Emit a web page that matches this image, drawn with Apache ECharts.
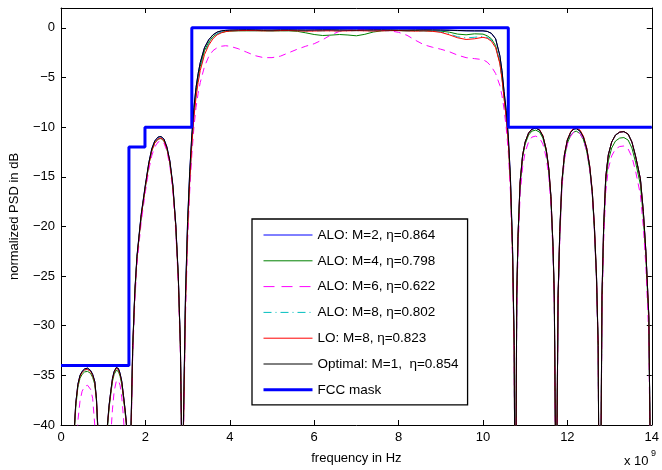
<!DOCTYPE html>
<html><head><meta charset="utf-8">
<script src="https://cdn.jsdelivr.net/npm/echarts@6/dist/echarts.min.js"></script>
<style>html,body{margin:0;padding:0;background:#fff}#c{width:662px;height:470px}</style>
</head><body><div id="c"></div>
<script>
// frequency grid (x 10^9 Hz)
const freq = [
 0.29,0.32,0.35,0.40,0.45,0.50,0.56,0.63,0.70,0.75,0.80,0.84,0.87,0.90,
 0.98,1.06,
 1.10,1.14,1.18,1.22,1.26,1.31,1.36,1.40,1.44,1.48,1.52,1.55,1.57,1.60,
 1.63,1.66,1.70,1.75,1.80,1.90,2.00,2.08,2.15,2.22,2.30,2.37,2.44,2.51,2.58,2.65,2.72,2.78,2.83,2.86,2.875,
 2.90,2.95,3.00,3.05,3.10,3.15,3.20,3.25,3.30,3.40,3.50,3.60,3.70,3.80,3.90,4.00,
 4.2,4.4,4.6,4.8,5.0,5.2,5.4,5.6,5.8,6.0,6.2,6.4,6.6,6.8,7.0,7.2,7.4,7.6,7.8,8.0,8.2,8.4,8.6,8.8,9.0,9.2,9.4,9.6,9.8,10.0,
 10.1,10.2,10.3,10.4,10.45,10.5,10.55,10.6,10.65,10.70,10.74,10.77,
 10.78,10.80,10.83,10.88,10.94,11.00,11.08,11.16,11.25,11.34,11.42,11.50,11.56,11.61,11.66,11.69,11.715,11.73,
 11.755,11.78,11.82,11.87,11.93,12.00,12.08,12.15,12.21,12.30,12.38,12.46,12.53,12.59,12.64,12.69,12.73,12.765,
 12.79,12.80,12.82,12.86,12.91,12.97,13.05,13.14,13.24,13.34,13.44,13.53,13.62,13.73,13.80,13.86,13.93,13.97,14.00
];

const aloM2 = [
 -50,-40,-37.8,-35.9,-35.0,-34.6,-34.35,-34.28,-34.5,-34.9,-35.6,-37.3,-40,-50,
 -47,-50,
 -40,-38.0,-36.6,-35.3,-34.6,-34.25,-34.3,-34.8,-35.6,-37.0,-38.5,-39.8,-41.5,-60,
 -60,-40,-32,-26.5,-23,-18.8,-15.8,-13.6,-12.2,-11.4,-11.0,-10.95,-11.2,-12.0,-13.4,-15.8,-19.8,-25,-32,-42,-60,
 -40,-27,-19.5,-14.5,-10.8,-8.0,-6.0,-4.6,-3.5,-2.0,-1.2,-0.72,-0.44,-0.32,-0.26,-0.23,
 -0.22,-0.21,-0.22,-0.23,-0.23,-0.22,-0.21,-0.22,-0.23,-0.22,-0.21,-0.21,-0.22,-0.23,-0.23,-0.22,-0.21,-0.21,-0.22,-0.23,-0.23,-0.22,-0.21,-0.22,-0.23,-0.25,-0.28,-0.3,-0.31,-0.31,
 -0.36,-0.56,-1.1,-2.8,-4.3,-6.4,-8.3,-10.9,-15,-22,-32,-60,
 -45,-27,-21,-15.5,-12.8,-11.5,-10.6,-10.2,-10.1,-10.3,-10.9,-12.3,-14.2,-17,-22,-27,-40,-60,
 -40,-27,-20.5,-15.5,-12.8,-11.3,-10.5,-10.2,-10.15,-10.4,-11.0,-12.2,-14.0,-16.5,-20,-25,-32,-60,
 -60,-40,-27,-20,-15,-12.8,-11.5,-10.8,-10.5,-10.45,-10.7,-11.5,-13.0,-15.2,-18.5,-22.5,-29,-45,-60
];

const aloM4 = [
 -50,-40.5,-38.2,-36.2,-35.3,-34.9,-34.65,-34.6,-34.8,-35.2,-35.9,-37.6,-40.5,-50,
 -47,-50,
 -40.3,-38.3,-36.9,-35.6,-34.9,-34.5,-34.6,-35.1,-35.9,-37.3,-38.8,-40.1,-42,-60,
 -60,-40.5,-32.3,-26.8,-23.2,-19.0,-16.0,-13.8,-12.4,-11.6,-11.2,-11.15,-11.4,-12.2,-13.6,-16.0,-20.0,-25.2,-32.3,-42,-60,
 -40.5,-27.5,-20,-15,-11.3,-8.5,-6.5,-5.0,-3.9,-2.3,-1.45,-0.9,-0.6,-0.45,-0.38,-0.33,
 -0.3,-0.3,-0.29,-0.3,-0.31,-0.3,-0.3,-0.35,-0.5,-0.67,-0.77,-0.73,-0.67,-0.72,-0.8,-0.65,-0.42,-0.3,-0.25,-0.28,-0.3,-0.28,-0.3,-0.32,-0.33,-0.43,-0.63,-0.7,-0.6,-0.63,
 -0.8,-1.1,-1.8,-3.5,-5.0,-7.0,-9.0,-11.5,-15.5,-22.5,-32.5,-60,
 -45,-27.3,-21.3,-15.8,-13.0,-11.7,-10.8,-10.4,-10.3,-10.5,-11.1,-12.5,-14.4,-17.2,-22.3,-27.3,-40.3,-60,
 -40.3,-27.3,-20.8,-15.8,-13.1,-11.6,-10.8,-10.5,-10.4,-10.65,-11.25,-12.45,-14.25,-16.75,-20.3,-25.3,-32.3,-60,
 -60,-40.5,-27.6,-20.6,-15.6,-13.4,-12.1,-11.4,-11.1,-11.05,-11.3,-12.1,-13.6,-15.8,-19.1,-23.1,-29.6,-45,-60
];

const aloM6 = [
 -60,-50,-44,-39.6,-37.6,-36.6,-36.1,-36.0,-36.4,-37.3,-40.0,-45,-50,-60,
 -55,-60,
 -48,-44,-41,-38.4,-36.6,-35.6,-35.5,-36.0,-37.2,-39.2,-42,-45,-50,-60,
 -60,-41.5,-33,-27.5,-23.8,-19.6,-16.5,-14.3,-12.9,-12.0,-11.5,-11.4,-11.6,-12.4,-13.9,-16.4,-20.5,-25.8,-33,-43,-60,
 -42,-29,-21.5,-16.5,-12.8,-10.0,-8.0,-6.6,-5.5,-3.9,-2.9,-2.3,-2.0,-1.85,-1.8,-1.85,
 -2.1,-2.45,-2.8,-3.0,-3.0,-2.85,-2.5,-2.15,-1.85,-1.6,-1.2,-0.7,-0.35,-0.25,-0.2,-0.2,-0.22,-0.25,-0.3,-0.45,-0.75,-1.25,-1.7,-1.95,-2.15,-2.4,-2.75,-3.0,-3.1,-3.2,
 -3.45,-3.9,-4.6,-5.8,-6.8,-8.2,-10,-12.5,-16.5,-23.5,-33.5,-60,
 -50,-29,-22.5,-16.8,-14.0,-12.5,-11.5,-11.0,-10.9,-11.1,-11.7,-13.1,-15.0,-17.8,-22.8,-28,-42,-60,
 -42,-28,-21.5,-16.2,-13.3,-11.7,-10.9,-10.5,-10.4,-10.65,-11.25,-12.45,-14.3,-16.8,-20.4,-25.5,-33,-60,
 -60,-42,-28.5,-21.5,-16.5,-14.2,-12.9,-12.2,-11.95,-11.9,-12.2,-13.0,-14.5,-16.8,-20.0,-24,-31,-47,-60
];

const aloM8 = [
 -50,-40.1,-37.9,-36.0,-35.1,-34.7,-34.45,-34.4,-34.6,-35.0,-35.7,-37.4,-40.1,-50,
 -47,-50,
 -40.1,-38.1,-36.7,-35.4,-34.7,-34.3,-34.4,-34.9,-35.7,-37.1,-38.6,-39.9,-41.6,-60,
 -60,-40.2,-32.2,-26.7,-23.2,-19.0,-16.0,-13.8,-12.4,-11.6,-11.2,-11.1,-11.35,-12.15,-13.55,-16.0,-20.0,-25.2,-32.2,-42,-60,
 -40.8,-27.8,-20.3,-15.3,-11.6,-8.8,-6.8,-5.3,-4.1,-2.55,-1.6,-1.0,-0.62,-0.45,-0.35,-0.3,
 -0.27,-0.27,-0.28,-0.29,-0.3,-0.28,-0.27,-0.29,-0.32,-0.31,-0.3,-0.3,-0.31,-0.3,-0.28,-0.3,-0.31,-0.3,-0.28,-0.27,-0.3,-0.32,-0.3,-0.33,-0.4,-0.6,-0.9,-1.0,-0.95,-0.85,
 -0.95,-1.25,-1.9,-3.5,-5.0,-7.0,-8.9,-11.4,-15.4,-22.4,-32.4,-60,
 -45,-27,-21,-15.5,-12.8,-11.5,-10.6,-10.2,-10.1,-10.3,-10.9,-12.3,-14.2,-17,-22,-27,-40,-60,
 -40,-27,-20.5,-15.5,-12.8,-11.3,-10.5,-10.15,-10.1,-10.35,-10.95,-12.15,-13.95,-16.45,-19.95,-24.95,-31.95,-60,
 -60,-40,-27,-20,-15,-12.8,-11.5,-10.8,-10.5,-10.45,-10.7,-11.5,-13,-15.2,-18.5,-22.5,-29,-45,-60
];

const loM8 = [
 -50,-40.1,-37.9,-36.0,-35.1,-34.7,-34.45,-34.4,-34.6,-35.0,-35.7,-37.4,-40.1,-50,
 -47,-50,
 -40.1,-38.1,-36.7,-35.4,-34.7,-34.3,-34.4,-34.9,-35.7,-37.1,-38.6,-39.9,-41.6,-60,
 -60,-40.2,-32.2,-26.7,-23.2,-19.0,-16.0,-13.8,-12.4,-11.6,-11.2,-11.1,-11.35,-12.15,-13.55,-16.0,-20.0,-25.2,-32.2,-42,-60,
 -41,-28,-20.5,-15.5,-11.8,-9.0,-7.0,-5.5,-4.3,-2.7,-1.75,-1.1,-0.7,-0.5,-0.38,-0.32,
 -0.28,-0.27,-0.28,-0.3,-0.3,-0.28,-0.27,-0.3,-0.33,-0.32,-0.3,-0.3,-0.32,-0.3,-0.28,-0.3,-0.32,-0.3,-0.28,-0.27,-0.3,-0.33,-0.3,-0.35,-0.45,-0.7,-1.0,-1.17,-1.1,-0.95,
 -1.05,-1.35,-2.0,-3.6,-5.1,-7.1,-9.0,-11.5,-15.5,-22.5,-32.5,-60,
 -45,-27,-21,-15.5,-12.8,-11.5,-10.6,-10.2,-10.05,-10.25,-10.85,-12.25,-14.15,-16.95,-21.95,-27,-40,-60,
 -40,-27,-20.5,-15.5,-12.75,-11.25,-10.45,-10.1,-10.05,-10.3,-10.9,-12.1,-13.9,-16.4,-19.9,-24.9,-31.9,-60,
 -60,-40,-27,-20,-15,-12.8,-11.5,-10.8,-10.5,-10.45,-10.7,-11.5,-13,-15.2,-18.5,-22.5,-29,-45,-60
];

const optimal = [
 -50,-40,-37.8,-35.9,-35.0,-34.6,-34.35,-34.27,-34.5,-34.9,-35.6,-37.3,-40,-50,
 -47,-50,
 -40,-38.0,-36.6,-35.3,-34.6,-34.2,-34.3,-34.8,-35.6,-37.0,-38.5,-39.8,-41.5,-60,
 -60,-40,-32,-26.5,-23,-18.8,-15.8,-13.6,-12.2,-11.4,-11.0,-10.95,-11.2,-12.0,-13.4,-15.8,-19.8,-25,-32,-42,-60,
 -40,-27,-19.5,-14.5,-10.8,-8.0,-6.0,-4.6,-3.5,-2.0,-1.2,-0.7,-0.42,-0.3,-0.25,-0.22,
 -0.2,-0.19,-0.2,-0.22,-0.22,-0.2,-0.2,-0.21,-0.22,-0.21,-0.2,-0.2,-0.21,-0.22,-0.22,-0.21,-0.2,-0.2,-0.21,-0.22,-0.22,-0.21,-0.2,-0.2,-0.21,-0.23,-0.26,-0.29,-0.3,-0.3,
 -0.35,-0.55,-1.1,-2.8,-4.3,-6.4,-8.3,-10.9,-15,-22,-32,-60,
 -45,-27,-21,-15.5,-12.8,-11.5,-10.6,-10.2,-10.1,-10.3,-10.9,-12.3,-14.2,-17,-22,-27,-40,-60,
 -40,-27,-20.5,-15.5,-12.8,-11.3,-10.5,-10.2,-10.15,-10.4,-11.0,-12.2,-14.0,-16.5,-20,-25,-32,-60,
 -60,-40,-27,-20,-15,-12.8,-11.5,-10.8,-10.5,-10.45,-10.7,-11.5,-13.0,-15.2,-18.5,-22.5,-29,-45,-60
];

// FCC indoor mask
const fccFreq  = [0, 1.61, 1.61, 1.99, 1.99, 3.1, 3.1, 10.6, 10.6, 14];
const fccLevel = [-34, -34, -12, -12, -10, -10, 0, 0, -10, -10];

const xTicks = [0, 2, 4, 6, 8, 10, 12, 14];
const yTicks = [-40, -35, -30, -25, -20, -15, -10, -5, 0];

const seriesNames = ['ALO: M=2, \u03b7=0.864', 'ALO: M=4, \u03b7=0.798', 'ALO: M=6, \u03b7=0.622',
                     'ALO: M=8, \u03b7=0.802', 'LO: M=8, \u03b7=0.823', 'Optimal: M=1,  \u03b7=0.854', 'FCC mask'];

const pair = (xs, ys) => xs.map((x, i) => [x, ys[i]]);
const FONT = '"Liberation Sans", Arial, Helvetica, sans-serif';

function lineSeries(name, data, color, type, width) {
  return {
    name, type: 'line', data, symbol: 'none', showSymbol: false, clip: true,
    lineStyle: { color, width, type }, itemStyle: { color },
    emphasis: { disabled: true }, animation: false
  };
}

const chart = echarts.init(document.getElementById('c'), null, { renderer: 'canvas' });
const axisCommon = {
  axisLine: { show: true, onZero: false, lineStyle: { color: '#000', width: 1 } },
  axisTick: { show: true, inside: true, length: 5, lineStyle: { color: '#000', width: 1 } },
  splitLine: { show: false }
};
const legendLineWidths = [1, 1, 1, 1, 1, 1, 3];
const legendDash = ['solid', 'solid', [11, 7], [8, 4, 1, 4], 'solid', 'solid', 'solid'];
chart.setOption({
  backgroundColor: '#fff',
  animation: false,
  grid: { left: 57, right: 7, top: 8, bottom: 44, containLabel: false },
  xAxis: [
    Object.assign({ type: 'value', min: 0, max: 14, interval: 2, position: 'bottom',
      name: 'frequency in Hz', nameLocation: 'middle', nameGap: 27,
      nameTextStyle: { fontFamily: FONT, fontSize: 13, color: '#000' },
      axisLabel: { margin: 6, fontFamily: FONT, fontSize: 13, color: '#000',
        formatter: v => xTicks.includes(v) ? String(v) : '' } }, axisCommon),
    Object.assign({ type: 'value', min: 0, max: 14, interval: 2, position: 'top',
      axisLabel: { show: false } }, axisCommon)
  ],
  yAxis: [
    Object.assign({ type: 'value', min: -40, max: 2, interval: 5, position: 'left',
      name: 'normalized PSD in dB', nameLocation: 'middle', nameGap: 40, nameRotate: 90,
      nameTextStyle: { fontFamily: FONT, fontSize: 13, color: '#000' },
      axisLabel: { margin: 6, fontFamily: FONT, fontSize: 13, color: '#000', showMaxLabel: false,
        formatter: v => yTicks.includes(v) ? (v < 0 ? '\u2212' + Math.abs(v) : String(v)) : '' } }, axisCommon),
    Object.assign({ type: 'value', min: -40, max: 2, interval: 5, position: 'right',
      axisLabel: { show: false } }, axisCommon)
  ],
  legend: {
    orient: 'vertical', left: 252, top: 219,
    padding: [9, 9, 8, 10], itemGap: 11.8, itemWidth: 49, itemHeight: 14,
    backgroundColor: '#fff', borderColor: '#000', borderWidth: 1.3, borderRadius: 0,
    selectedMode: false,
    itemStyle: { opacity: 0, borderWidth: 0 },
    textStyle: { fontFamily: FONT, fontSize: 13.5, color: '#000' },
    data: seriesNames.map((n, i) => ({ name: n, lineStyle: { width: legendLineWidths[i], type: legendDash[i] } }))
  },
  graphic: [
    { type: 'text', left: 624, top: 455, silent: true,
      style: { text: 'x 10', fontFamily: FONT, fontSize: 13, fill: '#000' } },
    { type: 'text', left: 651, top: 449, silent: true,
      style: { text: '9', fontFamily: FONT, fontSize: 9, fill: '#000' } }
  ],
  series: [
    lineSeries(seriesNames[0], pair(freq, aloM2), '#0000ff', 'solid', 1),
    lineSeries(seriesNames[1], pair(freq, aloM4), '#008000', 'solid', 1),
    lineSeries(seriesNames[2], pair(freq, aloM6), '#ff00ff', [7, 5], 1),
    lineSeries(seriesNames[3], pair(freq, aloM8), '#00bfbf', [8, 4, 1, 4], 1),
    lineSeries(seriesNames[4], pair(freq, loM8), '#ff0000', 'solid', 1),
    lineSeries(seriesNames[5], pair(freq, optimal), '#000000', 'solid', 1),
    lineSeries(seriesNames[6], pair(fccFreq, fccLevel), '#0000ff', 'solid', 3)
  ]
});
</script></body></html>
